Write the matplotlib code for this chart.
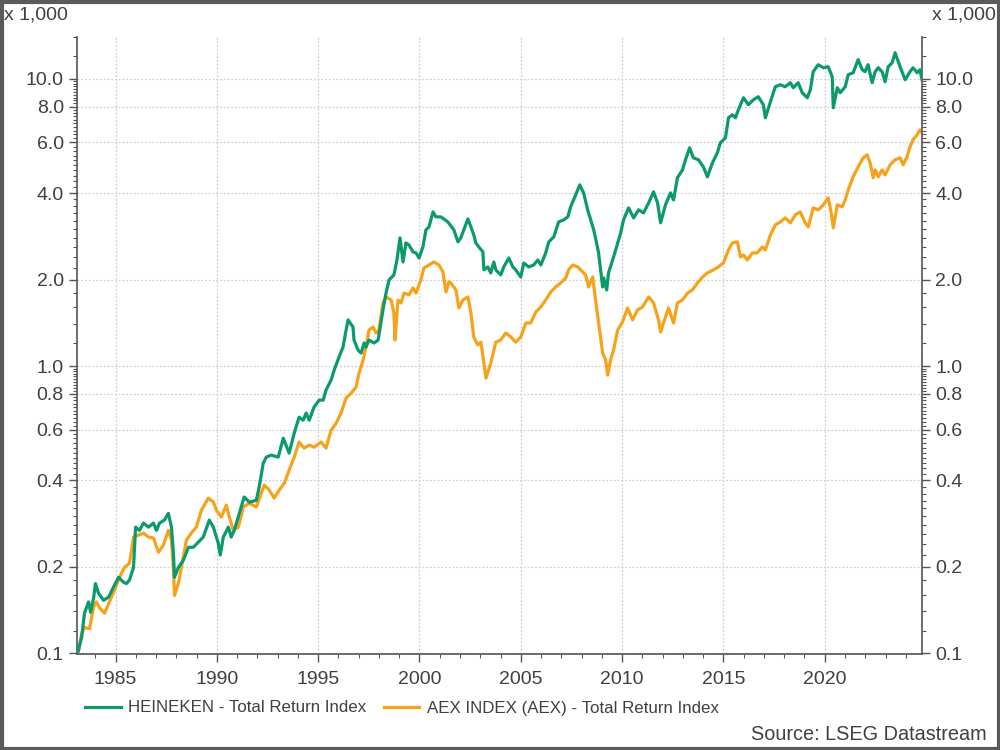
import matplotlib
matplotlib.use("Agg")
import matplotlib.pyplot as plt
from matplotlib.patches import Rectangle
from matplotlib.ticker import NullFormatter
import numpy as np

plt.rcParams['font.family'] = ['Liberation Sans', 'DejaVu Sans']

# Heineken total return index (x 1,000)
heineken_years = [
    1983.16, 1983.33, 1983.47, 1983.67, 1983.77, 1983.92, 1984.01, 1984.16, 1984.41, 1984.66,
    1984.90, 1985.15, 1985.39, 1985.54, 1985.69, 1985.89, 1985.99, 1986.18, 1986.38, 1986.63,
    1986.87, 1987.02, 1987.17, 1987.41, 1987.61, 1987.76, 1987.86, 1987.91, 1988.10, 1988.35,
    1988.60, 1988.84, 1989.09, 1989.33, 1989.63, 1989.83, 1990.07, 1990.17, 1990.32, 1990.57,
    1990.71, 1990.86, 1991.11, 1991.35, 1991.60, 1991.95, 1992.09, 1992.29, 1992.44, 1992.68,
    1993.03, 1993.28, 1993.57, 1993.82, 1994.06, 1994.26, 1994.41, 1994.56, 1994.80, 1995.05,
    1995.25, 1995.39, 1995.64, 1995.79, 1996.03, 1996.23, 1996.38, 1996.48, 1996.72, 1996.77,
    1996.97, 1997.12, 1997.27, 1997.36, 1997.51, 1997.76, 1997.96, 1998.20, 1998.35, 1998.50,
    1998.74, 1998.89, 1999.04, 1999.19, 1999.33, 1999.48, 1999.68, 1999.83, 1999.98, 2000.17,
    2000.32, 2000.47, 2000.67, 2000.81, 2001.06, 2001.40, 2001.70, 2001.90, 2002.04, 2002.19,
    2002.39, 2002.54, 2002.68, 2002.78, 2002.93, 2003.13, 2003.18, 2003.37, 2003.52, 2003.67,
    2003.77, 2004.01, 2004.16, 2004.41, 2004.61, 2004.75, 2005.00, 2005.15, 2005.39, 2005.64,
    2005.84, 2005.99, 2006.23, 2006.38, 2006.63, 2006.87, 2007.12, 2007.32, 2007.46, 2007.71,
    2007.91, 2008.10, 2008.30, 2008.45, 2008.60, 2008.74, 2008.84, 2009.04, 2009.09, 2009.24,
    2009.33, 2009.58, 2009.93, 2010.07, 2010.32, 2010.57, 2010.81, 2011.06, 2011.31, 2011.55,
    2011.75, 2011.90, 2012.14, 2012.39, 2012.54, 2012.73, 2012.98, 2013.13, 2013.33, 2013.52,
    2013.77, 2014.01, 2014.21, 2014.46, 2014.70, 2014.85, 2015.10, 2015.25, 2015.44, 2015.59,
    2015.74, 2015.99, 2016.23, 2016.48, 2016.72, 2016.97, 2017.07, 2017.32, 2017.56, 2017.81,
    2018.05, 2018.30, 2018.45, 2018.69, 2018.89, 2019.14, 2019.29, 2019.43, 2019.68, 2019.93,
    2020.17, 2020.37, 2020.42, 2020.62, 2020.76, 2021.01, 2021.16, 2021.40, 2021.65, 2021.85,
    2021.99, 2022.14, 2022.34, 2022.49, 2022.64, 2022.83, 2022.98, 2023.13, 2023.33, 2023.47,
    2023.72, 2023.97, 2024.21, 2024.36, 2024.56, 2024.70, 2024.80,
]
heineken_vals = [
    0.102, 0.114, 0.138, 0.151, 0.139, 0.156, 0.175, 0.162, 0.153, 0.157,
    0.170, 0.184, 0.177, 0.175, 0.180, 0.199, 0.275, 0.268, 0.284, 0.275,
    0.284, 0.268, 0.284, 0.291, 0.307, 0.275, 0.223, 0.184, 0.199, 0.211,
    0.234, 0.234, 0.244, 0.254, 0.291, 0.275, 0.242, 0.220, 0.254, 0.275,
    0.254, 0.268, 0.307, 0.350, 0.336, 0.341, 0.379, 0.459, 0.482, 0.490,
    0.482, 0.561, 0.498, 0.584, 0.664, 0.648, 0.686, 0.648, 0.720, 0.761,
    0.761, 0.825, 0.894, 0.968, 1.075, 1.165, 1.335, 1.447, 1.367, 1.232,
    1.137, 1.110, 1.203, 1.165, 1.232, 1.203, 1.232, 1.567, 1.796, 1.994,
    2.076, 2.340, 2.793, 2.303, 2.683, 2.640, 2.496, 2.476, 2.378, 2.598,
    2.978, 3.050, 3.440, 3.305, 3.305, 3.175, 2.978, 2.705, 2.793, 2.978,
    3.252, 3.050, 2.860, 2.683, 2.598, 2.496, 2.161, 2.213, 2.109, 2.303,
    2.161, 2.076, 2.213, 2.378, 2.213, 2.161, 2.042, 2.285, 2.213, 2.248,
    2.340, 2.248, 2.476, 2.705, 2.815, 3.175, 3.227, 3.305, 3.581, 3.943,
    4.272, 4.007, 3.497, 3.227, 2.978, 2.683, 2.476, 1.885, 2.026, 1.840,
    2.109, 2.398, 2.907, 3.227, 3.552, 3.279, 3.497, 3.412, 3.698, 4.040,
    3.698, 3.150, 3.639, 4.007, 3.788, 4.520, 4.818, 5.222, 5.749, 5.306,
    5.222, 4.935, 4.555, 5.097, 5.524, 5.984, 6.229, 7.313, 7.491, 7.313,
    7.798, 8.587, 8.118, 8.449, 8.658, 8.118, 7.313, 8.315, 9.378, 9.530,
    9.378, 9.685, 9.303, 9.685, 8.936, 8.587, 9.155, 10.58, 11.19, 10.92,
    11.01, 10.16, 7.925, 9.303, 8.936, 9.378, 10.33, 10.49, 11.65, 10.75,
    10.58, 11.19, 9.685, 10.58, 10.92, 10.58, 9.761, 11.01, 11.37, 12.32,
    11.01, 9.920, 10.58, 10.92, 10.49, 10.75, 9.920,
]

# AEX index total return index (x 1,000)
aex_years = [
    1983.18, 1983.33, 1983.47, 1983.72, 1983.92, 1984.06, 1984.21, 1984.46, 1984.70, 1984.95,
    1985.20, 1985.44, 1985.69, 1985.89, 1986.13, 1986.38, 1986.63, 1986.87, 1987.12, 1987.36,
    1987.61, 1987.76, 1987.86, 1987.91, 1988.10, 1988.25, 1988.50, 1988.74, 1988.99, 1989.24,
    1989.58, 1989.83, 1989.98, 1990.22, 1990.47, 1990.62, 1990.81, 1991.06, 1991.31, 1991.60,
    1991.95, 1992.19, 1992.34, 1992.59, 1992.83, 1993.08, 1993.33, 1993.57, 1993.82, 1994.06,
    1994.31, 1994.56, 1994.80, 1995.15, 1995.39, 1995.64, 1995.89, 1996.13, 1996.38, 1996.63,
    1996.87, 1997.02, 1997.22, 1997.36, 1997.51, 1997.71, 1997.86, 1998.00, 1998.20, 1998.35,
    1998.60, 1998.74, 1998.79, 1998.94, 1999.09, 1999.24, 1999.48, 1999.68, 1999.83, 2000.07,
    2000.22, 2000.47, 2000.71, 2000.96, 2001.16, 2001.31, 2001.45, 2001.55, 2001.80, 2001.95,
    2002.14, 2002.39, 2002.54, 2002.68, 2002.88, 2003.03, 2003.18, 2003.28, 2003.52, 2003.77,
    2004.01, 2004.26, 2004.51, 2004.75, 2005.00, 2005.25, 2005.49, 2005.74, 2005.99, 2006.23,
    2006.48, 2006.72, 2006.97, 2007.22, 2007.36, 2007.56, 2007.81, 2008.05, 2008.20, 2008.35,
    2008.55, 2008.69, 2008.84, 2009.04, 2009.19, 2009.29, 2009.43, 2009.58, 2009.78, 2010.02,
    2010.27, 2010.52, 2010.76, 2011.01, 2011.31, 2011.55, 2011.80, 2011.90, 2012.14, 2012.29,
    2012.54, 2012.73, 2012.98, 2013.23, 2013.47, 2013.72, 2013.97, 2014.21, 2014.51, 2014.75,
    2015.00, 2015.25, 2015.44, 2015.69, 2015.84, 2015.99, 2016.18, 2016.43, 2016.67, 2016.92,
    2017.07, 2017.32, 2017.56, 2017.81, 2018.05, 2018.30, 2018.55, 2018.79, 2019.04, 2019.19,
    2019.43, 2019.68, 2019.93, 2020.17, 2020.32, 2020.42, 2020.62, 2020.86, 2021.01, 2021.16,
    2021.40, 2021.65, 2021.90, 2022.09, 2022.24, 2022.39, 2022.49, 2022.64, 2022.83, 2022.98,
    2023.23, 2023.47, 2023.72, 2023.87, 2024.06, 2024.21, 2024.36, 2024.56, 2024.70, 2024.85,
]
aex_vals = [
    0.102, 0.117, 0.123, 0.122, 0.145, 0.151, 0.144, 0.138, 0.151, 0.166,
    0.184, 0.199, 0.206, 0.254, 0.258, 0.262, 0.254, 0.252, 0.225, 0.238,
    0.268, 0.248, 0.195, 0.159, 0.175, 0.199, 0.248, 0.262, 0.275, 0.315,
    0.347, 0.336, 0.315, 0.298, 0.328, 0.298, 0.268, 0.275, 0.323, 0.333,
    0.323, 0.361, 0.385, 0.370, 0.347, 0.370, 0.391, 0.434, 0.482, 0.544,
    0.518, 0.531, 0.522, 0.544, 0.518, 0.598, 0.633, 0.686, 0.774, 0.805,
    0.845, 0.945, 1.049, 1.165, 1.335, 1.367, 1.303, 1.335, 1.658, 1.740,
    1.698, 1.530, 1.232, 1.698, 1.658, 1.796, 1.768, 1.870, 1.796, 1.994,
    2.195, 2.248, 2.303, 2.248, 2.126, 1.810, 1.962, 1.946, 1.840, 1.593,
    1.698, 1.740, 1.530, 1.262, 1.184, 1.212, 1.024, 0.908, 1.024, 1.212,
    1.232, 1.303, 1.262, 1.212, 1.262, 1.412, 1.412, 1.542, 1.606, 1.698,
    1.810, 1.885, 1.946, 2.026, 2.161, 2.248, 2.213, 2.126, 2.076, 1.885,
    2.042, 1.698, 1.412, 1.110, 1.049, 0.930, 1.049, 1.137, 1.335, 1.423,
    1.593, 1.447, 1.567, 1.606, 1.740, 1.658, 1.447, 1.314, 1.481, 1.593,
    1.412, 1.658, 1.698, 1.796, 1.840, 1.946, 2.042, 2.109, 2.161, 2.213,
    2.285, 2.536, 2.683, 2.705, 2.398, 2.436, 2.340, 2.476, 2.476, 2.598,
    2.536, 2.860, 3.099, 3.175, 3.279, 3.150, 3.358, 3.440, 3.150, 3.050,
    3.552, 3.497, 3.639, 3.850, 3.412, 3.026, 3.639, 3.581, 3.788, 4.105,
    4.555, 4.935, 5.306, 5.435, 5.097, 4.520, 4.818, 4.555, 4.818, 4.630,
    5.016, 5.222, 5.306, 5.016, 5.349, 5.796, 6.131, 6.381, 6.642, 6.381,
]

y_ticks = [0.1, 0.2, 0.4, 0.6, 0.8, 1.0, 2.0, 4.0, 6.0, 8.0, 10.0]
y_labels = ["0.1", "0.2", "0.4", "0.6", "0.8", "1.0", "2.0", "4.0", "6.0", "8.0", "10.0"]
x_ticks = [1985, 1990, 1995, 2000, 2005, 2010, 2015, 2020]

green = "#0b9a6b"
orange = "#f7a21b"
text_col = "#404040"
axis_col = "#555555"

fig = plt.figure(figsize=(10, 7.5), dpi=100)
ax = fig.add_axes([0.077, 0.128, 0.845, 0.823])

ax.plot(heineken_years, heineken_vals, color=green, lw=2.3, label="HEINEKEN - Total Return Index", zorder=3)
ax.plot(aex_years, aex_vals, color=orange, lw=2.3, label="AEX INDEX (AEX) - Total Return Index", zorder=2)

ax.set_yscale("log")
ax.set_ylim(0.0995, 14.0)
ax.set_xlim(1983.1, 2024.8)

ax.set_yticks(y_ticks)
ax.set_yticklabels(y_labels)
minor = list(np.arange(0.12, 1.0, 0.02)) + list(np.arange(1.2, 10.0, 0.2)) + [12.0, 14.0]
minor = [m for m in minor if round(m, 2) not in y_ticks]
ax.set_yticks(minor, minor=True)
ax.yaxis.set_minor_formatter(NullFormatter())
ax.set_xticks(x_ticks)
ax.set_xticks(range(1984, 2025), minor=True)
ax.xaxis.set_minor_formatter(NullFormatter())

ax.tick_params(axis="y", which="both", left=True, right=True, labelleft=True, labelright=True,
               direction="out", colors=axis_col, labelcolor=text_col, labelsize=14)
ax.tick_params(axis="y", which="major", length=6, width=1)
ax.tick_params(axis="y", which="minor", length=3, width=0.8)
ax.tick_params(axis="x", which="major", length=6, width=1, direction="out", colors=axis_col,
               labelcolor=text_col, labelsize=14, pad=6)
ax.tick_params(axis="x", which="minor", length=3, width=0.8, direction="out", colors=axis_col)

for side in ["left", "right", "bottom"]:
    ax.spines[side].set_color(axis_col)
    ax.spines[side].set_linewidth(1.2)
ax.spines["top"].set_visible(False)

ax.grid(True, which="major", color="#cfcfcf", linestyle=(0, (1.5, 1.5)), linewidth=0.9)

fig.text(0.004, 0.98, "x 1,000", fontsize=14, color=text_col, ha="left", va="center")
fig.text(0.996, 0.98, "x 1,000", fontsize=14, color=text_col, ha="right", va="center")

fig.legend(loc="center left", bbox_to_anchor=(0.07, 0.056), ncol=2, frameon=False,
           fontsize=12.2, handlelength=2.1, handletextpad=0.45, columnspacing=1.0,
           labelcolor=text_col)

fig.text(0.987, 0.02, "Source: LSEG Datastream", fontsize=14.3, color=text_col, ha="right", va="center")

fig.patches.append(Rectangle((0.0015, 0.002), 0.997, 0.996, transform=fig.transFigure,
                             fill=False, edgecolor="#5a5a5a", linewidth=3))

fig.savefig("out.png", dpi=100)
